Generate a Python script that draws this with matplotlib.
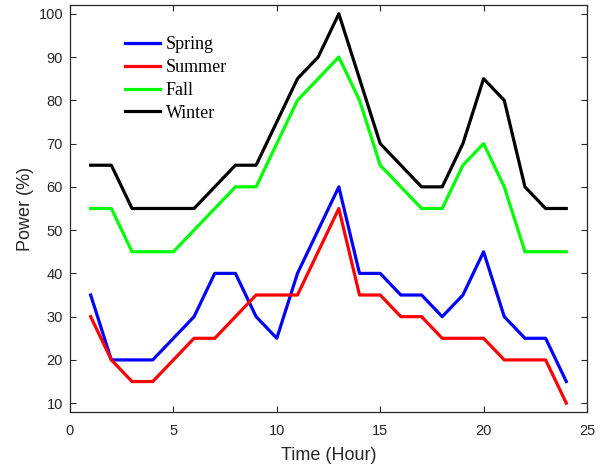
import matplotlib
matplotlib.use("Agg")
import matplotlib.pyplot as plt

hours = list(range(1, 25))
spring = [35, 20, 20, 20, 25, 30, 40, 40, 30, 25, 40, 50,
          60, 40, 40, 35, 35, 30, 35, 45, 30, 25, 25, 15]
summer = [30, 20, 15, 15, 20, 25, 25, 30, 35, 35, 35, 45,
          55, 35, 35, 30, 30, 25, 25, 25, 20, 20, 20, 10]
fall = [55, 55, 45, 45, 45, 50, 55, 60, 60, 70, 80, 85,
        90, 80, 65, 60, 55, 55, 65, 70, 60, 45, 45, 45]
winter = [65, 65, 55, 55, 55, 55, 60, 65, 65, 75, 85, 90,
          100, 85, 70, 65, 60, 60, 70, 85, 80, 60, 55, 55]

series = [("Spring", spring, (0, 0, 1)),
          ("Summer", summer, (1, 0, 0)),
          ("Fall", fall, (0, 1, 0)),
          ("Winter", winter, (0, 0, 0))]

plt.rcParams['font.family'] = ['Liberation Sans', 'DejaVu Sans']

fig = plt.figure(figsize=(6.14, 4.68), dpi=100)
ax = fig.add_axes([0.114, 0.12, 0.842, 0.869])

for name, vals, color in series:
    ax.plot(hours, vals, color=color, linewidth=2.3, label=name)

ax.set_xlim(0, 25)
ax.set_ylim(8, 102)
ax.set_xticks(range(0, 26, 5))
ax.set_yticks(range(10, 101, 10))
ax.tick_params(direction='in', top=True, right=True, labelsize=10.5,
               colors='#262626', length=4, width=0.8)
ax.tick_params(axis='x', pad=9)
ax.tick_params(axis='y', pad=5)
for sp in ax.spines.values():
    sp.set_color('#262626')
    sp.set_linewidth(0.9)

ax.set_xlabel("Time (Hour)", fontsize=13, color='#262626', labelpad=6)
ax.set_ylabel("Power (%)", fontsize=13, color='#262626', labelpad=3)

leg = ax.legend(loc='upper left', bbox_to_anchor=(0.075, 0.963), frameon=False,
                prop={'family': 'Liberation Serif', 'size': 13},
                handlelength=1.95, handletextpad=0.3, labelspacing=0.32)

fig.savefig("out.png", dpi=100)
